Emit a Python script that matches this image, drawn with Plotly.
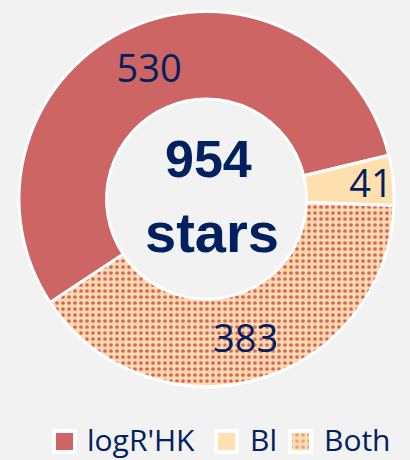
import plotly.graph_objects as go

labels = ["logR'HK", "Bl", "Both"]
values = [530, 41, 383]
center_lines = ["954", "stars"]

colors = ["#CD6565", "#FFE0AE", "#FBDCAE"]
dot_color = "#DE5F5F"
navy = "#002060"

fig = go.Figure()

fig.add_trace(go.Pie(
    labels=labels,
    values=values,
    sort=False,
    direction="clockwise",
    rotation=236.5,
    hole=0.533,
    textinfo="value",
    textposition="inside",
    insidetextorientation="horizontal",
    textfont=dict(family="Open Sans", size=38, color=navy),
    marker=dict(
        colors=colors,
        line=dict(color="white", width=3),
        pattern=dict(shape=["", "", "."], fgcolor=dot_color,
                     bgcolor=colors, size=6, solidity=0.3),
    ),
    domain=dict(x=[19/410, 394/410], y=[1-386.5/460, 1-11.5/460]),
    showlegend=False,
    hoverinfo="label+value",
))

# Centre text
fig.add_annotation(text="<b>%s</b>" % center_lines[0], x=208/410, y=1-159/460, xref="paper", yref="paper",
                   showarrow=False, font=dict(family="Liberation Sans", size=52, color=navy))
fig.add_annotation(text="<b>%s</b>" % center_lines[1], x=212/410, y=1-232/460, xref="paper", yref="paper",
                   showarrow=False, font=dict(family="Liberation Sans", size=56, color=navy))

# Manual legend (swatches drawn on a hidden pixel-space axis)
swatch_x = [56, 218, 292]
text_x = [85, 248, 322]
sw = 17
sy0, sy1 = 433, 450
for i, lab in enumerate(labels):
    x0 = swatch_x[i]
    fig.add_shape(type="rect", xref="x", yref="y", x0=x0 - 4, x1=x0 + sw + 4, y0=sy0 - 4, y1=sy1 + 4,
                  fillcolor="white", line=dict(width=0), layer="below")
    xs = [x0, x0 + sw, x0 + sw, x0, x0]
    ys = [sy0, sy0, sy1, sy1, sy0]
    if i == 2:
        fp = dict(shape=".", fgcolor=dot_color, bgcolor=colors[i], size=6, solidity=0.3)
    else:
        fp = dict(shape="")
    fig.add_trace(go.Scatter(x=xs, y=ys, mode="lines", fill="toself", fillcolor=colors[i],
                             fillpattern=fp, line=dict(width=0), showlegend=False,
                             hoverinfo="skip"))
    fig.add_annotation(text=lab, x=text_x[i], y=439, xref="x", yref="y", xanchor="left",
                       yanchor="middle", showarrow=False,
                       font=dict(family="Open Sans", size=30, color=navy))

fig.update_layout(
    width=410, height=460,
    margin=dict(l=0, r=0, t=0, b=0),
    paper_bgcolor="#F2F2F2",
    plot_bgcolor="rgba(0,0,0,0)",
    xaxis=dict(range=[0, 410], domain=[0, 1], visible=False, fixedrange=True),
    yaxis=dict(range=[460, 0], domain=[0, 1], visible=False, fixedrange=True),
    uniformtext=dict(minsize=38, mode="show"),
    showlegend=False,
)

fig.write_html("out.html", config={"displayModeBar": False},
               post_script="document.body.style.margin='0';document.body.style.background='#F2F2F2';")
